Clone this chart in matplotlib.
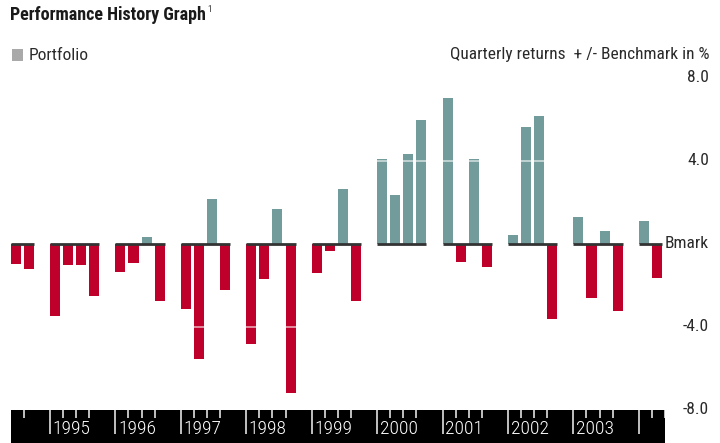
import matplotlib
matplotlib.use("Agg")
import matplotlib.pyplot as plt
from matplotlib.patches import Rectangle

plt.rcParams['font.family'] = ['Roboto Condensed', 'DejaVu Sans']

# Data: quarterly returns relative to benchmark (%), starting 1994 Q3
start_year = 1994
start_quarter = 3
values = [-1.0, -1.25,
          -3.5, -1.05, -1.05, -2.55,
          -1.35, -0.95, 0.3, -2.75,
          -3.15, -5.55, 2.15, -2.25,
          -4.85, -1.7, 1.65, -7.2,
          -1.4, -0.35, 2.65, -2.75,
          4.05, 2.35, 4.3, 5.95,
          7.0, -0.9, 4.05, -1.15,
          0.4, 5.6, 6.15, -3.65,
          1.3, -2.65, 0.6, -3.25,
          1.1, -1.65]
year_labels = ['1995', '1996', '1997', '1998', '1999', '2000', '2001', '2002', '2003']
y_labels = ['8.0', '4.0', 'Bmark', '-4.0', '-8.0']
y_label_vals = [8, 4, 0, -4, -8]

W, H = 720, 443
fig = plt.figure(figsize=(W / 100, H / 100), dpi=100)

def fx(px):
    return px / W

def fy(py):
    return 1 - py / H

SLOTS_PER_YEAR = 5
BAR_W = 0.77
x_left_px, x_right_px = 10.7, 665.0
y_top_px, y_bot_px = 77.5, 409.5
xmin, xmax = 2, 52

ax = fig.add_axes([fx(x_left_px), fy(y_bot_px), fx(x_right_px - x_left_px), (y_bot_px - y_top_px) / H])
ax.set_xlim(xmin, xmax)
ax.set_ylim(-8, 8)
ax.axis('off')

teal = '#719c9b'
red = '#bf002b'

slots = []
for i, v in enumerate(values):
    qi = (start_quarter - 1) + i
    year_off = qi // 4
    q = qi % 4
    slot = year_off * SLOTS_PER_YEAR + q
    slots.append((slot, year_off, q))
    ax.bar(slot, v, width=BAR_W, align='edge', color=teal if v >= 0 else red,
           linewidth=0, zorder=2)

# white translucent lines at +/-4 over bars
for g in (4, -4):
    ax.axhline(g, color='white', alpha=0.65, lw=1.2, zorder=3)

# baseline per year
years = {}
for slot, yo, q in slots:
    years.setdefault(yo, []).append(slot)
for yo, ss in years.items():
    ax.plot([min(ss), max(ss) + BAR_W], [0, 0], color='#333333', lw=2.0,
            solid_capstyle='butt', zorder=4)

# bottom black band
band = fig.add_axes([fx(x_left_px), 0, fx(x_right_px - x_left_px), (H - y_bot_px) / H])
band.set_xlim(xmin, xmax)
band.set_ylim(H - y_bot_px, 0)  # pixel units downward
band.set_facecolor('black')
band.set_xticks([])
band.set_yticks([])
for s in band.spines.values():
    s.set_visible(False)

last_year_off = (start_quarter - 1 + len(values)) // 4
for yo in range(0, last_year_off + 1):
    for q in range(4):
        slot = yo * SLOTS_PER_YEAR + q
        if slot <= xmin or slot > xmax:
            continue
        length = 24 if q == 0 else 8
        band.plot([slot, slot], [0, length], color='#d0d0d0', lw=1.3, zorder=3,
                  solid_capstyle='butt')
for k, lab in enumerate(year_labels):
    slot = (k + 1) * SLOTS_PER_YEAR
    band.text(slot + 0.2, 19.5, lab, color='white', fontsize=14, ha='left',
              va='center', fontweight='light')

# right labels
for lab, v in zip(y_labels, y_label_vals):
    py = y_top_px + (8 - v) / 16 * (y_bot_px - y_top_px)
    fig.text(fx(709), fy(py), lab, ha='right', va='center', fontsize=12.5,
             color='#2a2a2a')

fig.text(fx(709), fy(55), 'Quarterly returns  + /- Benchmark in %', ha='right',
         va='center', fontsize=12.5, color='#2a2a2a')

# title
fig.text(fx(10), fy(15), 'Performance History Graph', ha='left', va='center',
         fontsize=13, fontweight='bold', color='#1a1a1a')
fig.text(fx(207), fy(10), '1', ha='left', va='center', fontsize=6.5, color='#333333')

# legend
fig.patches.append(Rectangle((fx(11.5), fy(61)), fx(12), 12 / H, transform=fig.transFigure,
                             facecolor='#a9a9a9', edgecolor='none'))
fig.text(fx(29), fy(55.5), 'Portfolio', ha='left', va='center', fontsize=12.5,
         color='#2a2a2a')

fig.savefig('out.png', dpi=100)
